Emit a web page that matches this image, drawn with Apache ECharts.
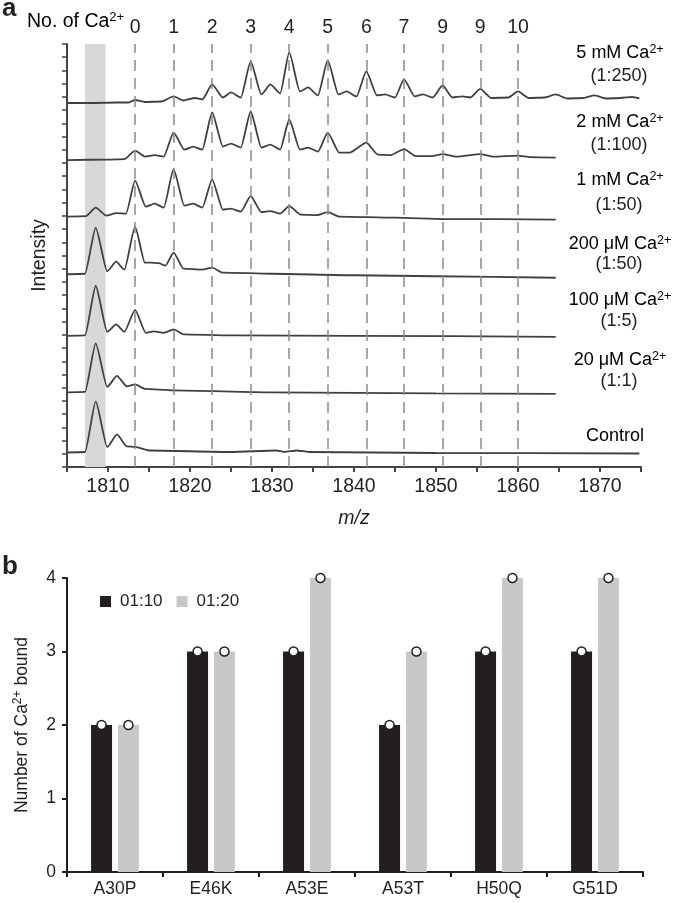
<!DOCTYPE html>
<html>
<head>
<meta charset="utf-8">
<script src="https://cdn.jsdelivr.net/npm/echarts@6/dist/echarts.min.js"></script>
<style>html,body{margin:0;padding:0;background:#fff}#c{width:685px;height:903px}</style>
</head>
<body>
<div id="c"></div>
<script>
// ---------- Panel a data ----------
// m/z positions of the Ca2+ adduct guide lines and their labels
const ionPositions = [1813.3, 1818.0, 1822.7, 1827.4, 1832.1, 1836.8, 1841.5, 1846.1, 1850.8, 1855.4, 1860.0];
const ionLabels = ['0', '1', '2', '3', '4', '5', '6', '7', '9', '9', '10'];
const apoBand = [1807.2, 1809.7];
// vertical offset (lane) of each spectrum, arbitrary intensity units
const laneOffsets = [363, 306.5, 250, 192.5, 131, 74.5, 14.5];
const laneNames = ['5 mM Ca', '2 mM Ca', '1 mM Ca', '200 \u03bcM Ca', '100 \u03bcM Ca', '20 \u03bcM Ca', 'Control'];
const laneRatios = ['(1:250)', '(1:100)', '(1:50)', '(1:50)', '(1:5)', '(1:1)', ''];
// spectra: [m/z, intensity above lane]
const spec5mM = [[1805,0.5],[1808,0.5],[1811,1],[1812.5,1],[1813.3,3.5],[1814.5,1.5],[1816.5,2],[1818.0,7],[1819.2,3],[1820.6,5.5],[1821.5,4],[1822.7,19],[1824.0,6],[1825.0,11],[1826.2,6],[1827.4,42],[1828.7,9],[1829.8,19],[1831.0,10],[1832.1,51],[1833.4,12],[1834.4,16],[1835.6,8],[1836.8,43],[1838.1,9],[1839.1,12],[1840.3,7],[1841.5,32],[1842.8,8],[1843.8,9],[1845.0,6],[1846.1,24],[1847.4,7],[1848.4,9],[1849.6,6],[1850.8,18],[1852.0,6],[1853.2,7],[1854.2,6],[1855.4,14.5],[1856.7,5.5],[1858.8,6],[1860.0,12],[1861.3,5.5],[1863.3,6],[1864.6,9],[1866,5],[1868,5.5],[1869.3,8],[1870.7,5],[1872.5,5.5],[1873.9,6.5],[1874.8,5]];
const spec2mM = [[1805,0],[1810,0.5],[1812,1],[1813.3,9.5],[1814.5,3.5],[1815.7,5],[1816.8,3.5],[1818.0,27.5],[1819.3,10.5],[1820.4,13.5],[1821.5,10.5],[1822.7,47.5],[1824.0,13.5],[1825.0,16.5],[1826.2,12.5],[1827.4,48.5],[1828.7,12.5],[1829.8,15.5],[1831.0,10.5],[1832.1,40.5],[1833.4,10.5],[1834.4,12.5],[1835.6,8.5],[1836.8,27.5],[1838.2,7.5],[1839.5,7.5],[1841.5,17.5],[1842.9,5.5],[1844.5,5],[1846.1,11],[1847.5,4],[1849.5,4],[1850.8,6],[1852.5,3.5],[1855.4,6],[1857,3.5],[1860.0,4.5],[1861.5,3],[1864.6,2.5]];
const spec1mM = [[1805,0],[1807.3,0.5],[1808.5,9],[1809.8,1],[1811.0,3.5],[1812.2,3],[1813.3,36],[1814.6,10],[1815.7,13],[1816.8,9],[1818.0,47.5],[1819.3,11],[1820.4,13],[1821.5,9],[1822.7,37],[1824.0,7],[1825.0,8],[1826.2,5],[1827.4,20.5],[1828.7,4.5],[1829.8,5.5],[1831.0,3],[1832.1,10.5],[1833.5,2],[1835.5,1.5],[1836.8,4.5],[1838.2,0],[1845,-1],[1851,-2.5],[1858,-2.5],[1864.6,-3]];
const spec200uM = [[1805,0],[1807.2,0.5],[1808.5,46.5],[1809.9,3],[1811.0,12.5],[1812.0,4.5],[1813.3,47.5],[1814.5,11.5],[1815.2,11.5],[1816.2,11],[1817.0,8.5],[1818.0,21.5],[1819.2,5.5],[1821.5,4.5],[1822.7,6.5],[1824,1.5],[1830,0.5],[1840,-1],[1850,-2],[1864.6,-3.5]];
const spec100uM = [[1805,0],[1807.2,0.5],[1808.5,50],[1809.9,4],[1811.0,11.5],[1812.0,4],[1813.3,26],[1814.6,3],[1815.6,4.5],[1816.8,3],[1818.0,6.5],[1819.2,1.5],[1825,0.5],[1840,0],[1864.6,-1]];
const spec20uM = [[1805,0],[1807.2,0.5],[1808.5,49],[1809.9,5.5],[1811.1,16.5],[1812.3,6],[1813.3,8],[1814.5,3.5],[1818,2],[1830,0],[1850,-1],[1864.6,-1.5]];
const specControl = [[1805,0],[1807.2,0.5],[1808.5,51],[1809.9,5.5],[1811.1,18],[1812.3,6],[1813.3,5.5],[1815,2],[1825,0.5],[1830.5,2],[1831.5,0.5],[1833,2],[1834.5,0.5],[1850,-0.5],[1874.8,-1]];
const spectra = [spec5mM, spec2mM, spec1mM, spec200uM, spec100uM, spec20uM, specControl];

// ---------- Panel b data ----------
const mutants = ['A30P', 'E46K', 'A53E', 'A53T', 'H50Q', 'G51D'];
const ratio110 = [2, 3, 3, 2, 3, 3];
const ratio120 = [2, 3, 4, 3, 4, 4];
const legendNames = ['01:10', '01:20'];

const FONT = 'Liberation Sans';
const TXT = '#231f20';
const FA = 19.5; // panel a text size
const supRich = {
  m: {fontSize: FA, fontFamily: FONT, color: TXT, lineHeight: 22},
  s: {fontSize: 13, fontFamily: FONT, color: TXT, lineHeight: 13, verticalAlign: 'top'}
};
const supRichR = {
  m: {fontSize: 18, fontFamily: FONT, color: TXT, lineHeight: 20},
  s: {fontSize: 12.5, fontFamily: FONT, color: TXT, lineHeight: 12, verticalAlign: 'top'}
};
const supRichB = {
  m: {fontSize: 17.5, fontFamily: FONT, color: TXT, lineHeight: 20},
  s: {fontSize: 12, fontFamily: FONT, color: TXT, lineHeight: 12, verticalAlign: 'top'}
};

const chart = echarts.init(document.getElementById('c'), null, {renderer: 'canvas'});

const specSeries = spectra.map((sp, i) => ({
  type: 'line', xAxisIndex: 0, yAxisIndex: 0, z: 3,
  data: sp.map(p => [p[0], laneOffsets[i] + p[1]]),
  symbol: 'none', smooth: 0.2, smoothMonotone: 'x',
  lineStyle: {color: '#404040', width: 1.8},
  silent: true, animation: false
}));

const guideSeries = {
  type: 'line', xAxisIndex: 0, yAxisIndex: 0, z: 1,
  data: [], symbol: 'none', silent: true, animation: false,
  markArea: {
    silent: true,
    itemStyle: {color: '#d7d8da'},
    data: [[{xAxis: apoBand[0]}, {xAxis: apoBand[1]}]]
  },
  markLine: {
    silent: true, symbol: 'none', animation: false,
    lineStyle: {color: '#8a8a8a', width: 1.5, type: [11, 7]},
    label: {show: true, position: 'end', formatter: '{b}', fontSize: FA, fontFamily: FONT, color: TXT, distance: 6},
    data: ionPositions.map((x, i) => ({xAxis: x, name: ionLabels[i]}))
  }
};

function markerPoints(vals) {
  return {
    symbol: 'circle', symbolSize: 9, silent: true, animation: false,
    itemStyle: {color: '#ffffff', borderColor: TXT, borderWidth: 1.5},
    label: {show: false},
    data: vals.map((v, i) => ({coord: [mutants[i], v]}))
  };
}

const barSeries = [
  {name: legendNames[0], type: 'bar', xAxisIndex: 1, yAxisIndex: 1, data: ratio110,
   barWidth: 21, barGap: '28%', itemStyle: {color: TXT}, markPoint: markerPoints(ratio110), z: 2},
  {name: legendNames[1], type: 'bar', xAxisIndex: 1, yAxisIndex: 1, data: ratio120,
   barWidth: 21, barGap: '28%', itemStyle: {color: '#c7c8ca'}, markPoint: markerPoints(ratio120), z: 2}
];

const graphics = [
  {type: 'text', left: 2, top: -4, style: {text: 'a', font: 'bold 26px ' + FONT, fill: TXT}},
  {type: 'text', left: 2, top: 554, style: {text: 'b', font: 'bold 26px ' + FONT, fill: TXT}},
  {type: 'text', x: 27, y: 22, style: {text: '{m|No. of Ca}{s|2+}', rich: supRich, verticalAlign: 'middle', align: 'left'}}
];
const laneLabelY = [[53, 76], [122, 145], [180, 205], [244, 264], [300, 321], [360, 381], [436, 0]];
laneNames.forEach((nm, i) => {
  const isCtrl = laneRatios[i] === '';
  graphics.push({type: 'text', x: isCtrl ? 615 : 620, y: laneLabelY[i][0],
    style: {text: isCtrl ? '{m|' + nm + '}' : '{m|' + nm + '}{s|2+}', rich: supRichR, align: 'center', verticalAlign: 'middle'}});
  if (!isCtrl) {
    graphics.push({type: 'text', x: 619, y: laneLabelY[i][1],
      style: {text: laneRatios[i], font: '18px ' + FONT, fill: TXT, align: 'center', verticalAlign: 'middle'}});
  }
});

const axisLineA = {show: true, lineStyle: {color: '#444', width: 2}};

const option = {
  animation: false,
  textStyle: {fontFamily: FONT},
  grid: [
    {left: 67, right: 44, top: 44, bottom: 436},
    {left: 67, right: 42, top: 578, bottom: 31}
  ],
  legend: {
    data: legendNames, left: 95, top: 588, icon: 'rect', itemWidth: 11, itemHeight: 11, itemGap: 14,
    textStyle: {fontSize: 17, color: TXT, fontFamily: FONT, padding: [0, 0, 0, 4]},
    selectedMode: false
  },
  xAxis: [
    {type: 'value', gridIndex: 0, min: 1805, max: 1875, interval: 5,
     axisLine: axisLineA, axisTick: {show: true, length: 5, lineStyle: {color: '#444', width: 2}},
     axisLabel: {fontSize: FA, color: TXT, margin: 10, formatter: v => (v % 10 === 0 ? String(v) : '')},
     splitLine: {show: false},
     name: 'm/z', nameLocation: 'middle', nameGap: 42,
     nameTextStyle: {fontSize: FA, fontStyle: 'italic', color: TXT, fontFamily: FONT}},
    {type: 'category', gridIndex: 1, data: mutants,
     axisLine: {show: true, lineStyle: {color: TXT, width: 2}},
     axisTick: {show: true, length: 5, alignWithLabel: false, lineStyle: {color: TXT, width: 2}},
     axisLabel: {fontSize: 17.5, color: TXT, margin: 8},
     splitLine: {show: false}}
  ],
  yAxis: [
    {type: 'value', gridIndex: 0, min: 0, max: 422.4, interval: 13.2,
     axisLine: axisLineA, axisTick: {show: true, length: 5, lineStyle: {color: '#444', width: 1.5}},
     axisLabel: {show: false}, splitLine: {show: false},
     name: 'Intensity', nameLocation: 'middle', nameGap: 17,
     nameTextStyle: {fontSize: FA, color: TXT, fontFamily: FONT}},
    {type: 'value', gridIndex: 1, min: 0, max: 4, interval: 1,
     axisLine: {show: true, lineStyle: {color: TXT, width: 2}},
     axisTick: {show: true, length: 5, lineStyle: {color: TXT, width: 2}},
     axisLabel: {fontSize: 17.5, color: TXT, margin: 11},
     splitLine: {show: false},
     name: '{m|Number of Ca}{s|2+}{m| bound}', nameLocation: 'middle', nameGap: 35,
     nameTextStyle: {rich: supRichB}}
  ],
  graphic: graphics,
  series: [guideSeries].concat(specSeries, barSeries)
};
chart.setOption(option);
</script>
</body>
</html>
